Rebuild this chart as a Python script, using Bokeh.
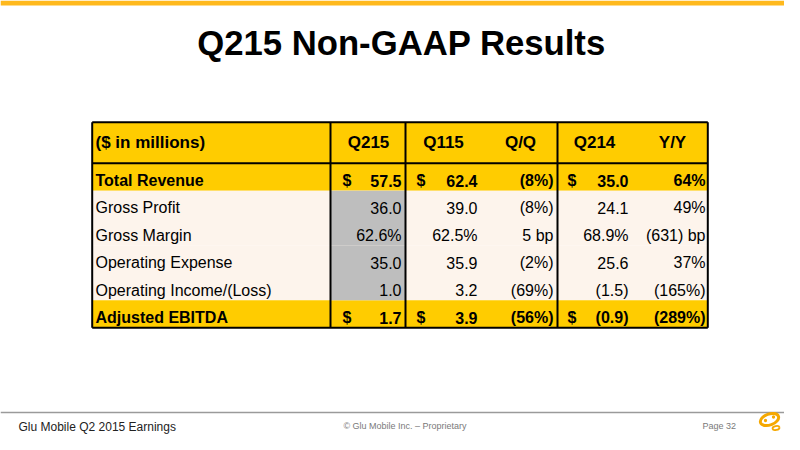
from bokeh.plotting import figure
from bokeh.models import Range1d
from bokeh.core.properties import value
from bokeh.embed import file_html
from bokeh.resources import INLINE

# ---------------- data ----------------
title = "Q215 Non-GAAP Results"
headers = ["($ in millions)", "Q215", "Q115", "Q/Q", "Q214", "Y/Y"]
row_labels = ["Total Revenue", "Gross Profit", "Gross Margin", "Operating Expense",
              "Operating Income/(Loss)", "Adjusted EBITDA"]
q215 = ["57.5", "36.0", "62.6%", "35.0", "1.0", "1.7"]
q115 = ["62.4", "39.0", "62.5%", "35.9", "3.2", "3.9"]
qq = ["(8%)", "(8%)", "5 bp", "(2%)", "(69%)", "(56%)"]
q214 = ["35.0", "24.1", "68.9%", "25.6", "(1.5)", "(0.9)"]
yy = ["64%", "49%", "(631) bp", "37%", "(165%)", "(289%)"]
highlight = [True, False, False, False, False, True]   # bold, yellow, with "$"
footer_left = "Glu Mobile Q2 2015 Earnings"
footer_mid = "© Glu Mobile Inc. – Proprietary"
footer_right = "Page 32"

# ---------------- style / layout ----------------
FONT = value("Liberation Sans")
YELLOW = "#FFCC00"
CREAM = "#FDF4EC"
GRAY = "#BEBEBE"
TOPBAR = "#FFB91D"
LOGO = "#F5A800"

X_L, X_R = 91.7, 707.3
DIVS = [330, 405, 557]
Y_TOP, Y_HEAD = 121.7, 162.7
ROW_H = 27.43
VAL_RIGHT = [401, 477, 553, 628, 705]
DOLLAR_LEFT = [342, 416, 567]
HEAD_CENTER = [368, 443, 520, 594, 672]
LABEL_X = 95

p = figure(width=784, height=434, output_backend="svg", toolbar_location=None,
           x_range=Range1d(0, 784), y_range=Range1d(434, 0), min_border=0,
           outline_line_color=None, background_fill_color="white")
p.axis.visible = False
p.grid.visible = False

# top bar
p.quad(left=0, right=800, top=0, bottom=5, fill_color=TOPBAR, line_color=None)

# title
p.text(x=[401], y=[42], text=[title], text_font=FONT, text_font_size="34.7px",
       text_font_style="bold", text_align="center", text_baseline="alphabetic",
       text_color="black")

# ---------------- table backgrounds ----------------
n = len(row_labels)
row_tops = [Y_HEAD + i * ROW_H for i in range(n)]
row_bots = [Y_HEAD + (i + 1) * ROW_H for i in range(n)]
Y_BOT = row_bots[-1]

p.quad(left=[X_L], right=[X_R], top=[Y_TOP], bottom=[Y_HEAD], fill_color=YELLOW, line_color=None)
p.quad(left=[X_L] * n, right=[X_R] * n, top=row_tops, bottom=row_bots,
       fill_color=[YELLOW if h else CREAM for h in highlight], line_color=None)
gi = [i for i in range(n) if not highlight[i]]
p.quad(left=[DIVS[0]] * len(gi), right=[DIVS[1]] * len(gi),
       top=[row_tops[i] for i in gi], bottom=[row_bots[i] for i in gi],
       fill_color=GRAY, line_color=None)

# ---------------- borders ----------------
x0s = [X_L, X_L, X_L, X_L, X_R] + DIVS
x1s = [X_R, X_R, X_R, X_L, X_R] + DIVS
y0s = [Y_TOP, Y_HEAD, Y_BOT, Y_TOP, Y_TOP] + [Y_TOP] * 3
y1s = [Y_TOP, Y_HEAD, Y_BOT, Y_BOT, Y_BOT] + [Y_BOT] * 3
p.segment(x0=x0s, y0=y0s, x1=x1s, y1=y1s, line_color="black", line_width=2)

# ---------------- header texts ----------------
HEAD_BASE = 141.5
p.text(x=[LABEL_X], y=[HEAD_BASE], text=[headers[0]], text_font=FONT, text_font_size="17px",
       text_font_style="bold", text_align="left", text_baseline="alphabetic")
p.text(x=HEAD_CENTER, y=[HEAD_BASE] * 5, text=headers[1:], text_font=FONT, text_font_size="17px",
       text_font_style="bold", text_align="center", text_baseline="alphabetic")

# ---------------- body texts ----------------
cols = [q215, q115, qq, q214, yy]
for bold in (True, False):
    idx = [i for i in range(n) if highlight[i] == bold]
    style = "bold" if bold else "normal"
    base = [row_tops[i] + 17.3 for i in idx]
    p.text(x=[LABEL_X] * len(idx), y=base, text=[row_labels[i] for i in idx],
           text_font=FONT, text_font_size="16px", text_font_style=style,
           text_align="left", text_baseline="alphabetic")
    xs, ys, ts = [], [], []
    for c, col in enumerate(cols):
        for k, i in enumerate(idx):
            xs.append(VAL_RIGHT[c]); ys.append(base[k]); ts.append(col[i])
    p.text(x=xs, y=ys, text=ts, text_font=FONT, text_font_size="16px",
           text_font_style=style, text_align="right", text_baseline="alphabetic")
    if bold:
        dx, dy = [], []
        for d in DOLLAR_LEFT:
            for k in range(len(idx)):
                dx.append(d); dy.append(base[k])
        p.text(x=dx, y=dy, text=["$"] * len(dx), text_font=FONT, text_font_size="16px",
               text_font_style="bold", text_align="left", text_baseline="alphabetic")

# ---------------- footer (raised slightly to fit the 434px frame) ----------------
FOOT_LINE = 412
FOOT_BASE = 426
p.segment(x0=[0], y0=[FOOT_LINE], x1=[800], y1=[FOOT_LINE], line_color="#9A9A9A", line_width=1.5)
p.text(x=[18], y=[FOOT_BASE], text=[footer_left], text_font=FONT, text_font_size="12px",
       text_align="left", text_baseline="alphabetic", text_color="#222222")
p.text(x=[404.5], y=[FOOT_BASE - 0.5], text=[footer_mid], text_font=FONT, text_font_size="9px",
       text_align="center", text_baseline="alphabetic", text_color="#7A7A7A")
p.text(x=[702], y=[FOOT_BASE - 0.5], text=[footer_right], text_font=FONT, text_font_size="9px",
       text_align="left", text_baseline="alphabetic", text_color="#7A7A7A")

# logo
p.ellipse(x=[769], y=[419], width=19, height=11, angle=0.35, fill_color=None,
          line_color=LOGO, line_width=3)
p.ellipse(x=[775.5], y=[427.5], width=7, height=4, angle=0.2, fill_color=None,
          line_color=LOGO, line_width=1.8)
p.scatter(x=[765, 773], y=[420, 416.5], size=3.3, fill_color=LOGO, line_color=None)

open("out.html", "w").write(file_html(p, INLINE))
